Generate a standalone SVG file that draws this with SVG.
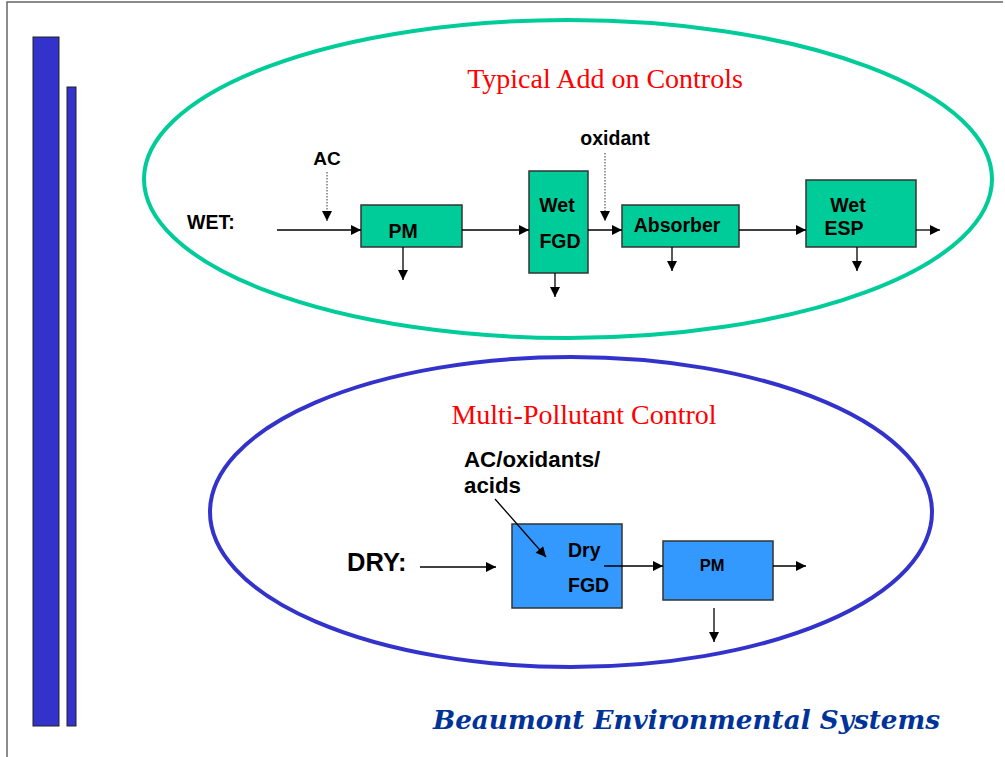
<svg xmlns="http://www.w3.org/2000/svg" width="1005" height="757" viewBox="0 0 1005 757">
  <style>
    .lbl { font-family: "Liberation Sans", Arial, sans-serif; font-weight: bold; fill: #000; }
    .title { font-family: "Liberation Serif", "Times New Roman", serif; font-size: 28px; fill: #ff0000; }
    .box-wet { fill: #00cc99; stroke: #333; stroke-width: 1.5; }
    .box-dry { fill: #3399ff; stroke: #333; stroke-width: 1.5; }
    .flow { stroke: #000; stroke-width: 1.3; fill: none; marker-end: url(#arrow); }
    .feed { stroke: #666; stroke-width: 1.3; fill: none; stroke-dasharray: 1.5 1.5; marker-end: url(#arrow); }
    .bar { fill: #3333cc; stroke: #222; stroke-width: 1; }
  </style>
  <defs>
    <marker id="arrow" viewBox="0 0 10 10" refX="10" refY="5" markerWidth="11" markerHeight="10" markerUnits="userSpaceOnUse" orient="auto">
      <path d="M0,0 L10,5 L0,10 z" fill="#000"/>
    </marker>
  </defs>

  <rect width="1005" height="757" fill="#fff"/>

  <!-- page frame -->
  <path d="M7,757 V2 H1003" fill="none" stroke="#666" stroke-width="1.5"/>

  <!-- side bars -->
  <g id="side-bars">
    <rect class="bar" x="33" y="37" width="26" height="689"/>
    <rect class="bar" x="67" y="87" width="9" height="639"/>
  </g>

  <!-- grouping ellipses -->
  <ellipse id="wet-group" cx="568" cy="179" rx="424" ry="159" fill="none" stroke="#00cc99" stroke-width="4"/>
  <ellipse id="dry-group" cx="571" cy="512" rx="361" ry="155" fill="none" stroke="#3333cc" stroke-width="4"/>

  <text class="title" x="605" y="88" text-anchor="middle">Typical Add on Controls</text>
  <text class="title" x="584" y="424" text-anchor="middle">Multi-Pollutant Control</text>

  <!-- wet train labels -->
  <text class="lbl" x="187" y="229" font-size="19.5">WET:</text>
  <text class="lbl" x="327" y="165" font-size="19" text-anchor="middle">AC</text>
  <text class="lbl" x="615" y="145" font-size="19.5" text-anchor="middle">oxidant</text>

  <g id="wet-pm">
    <rect class="box-wet" x="361" y="205" width="101" height="42"/>
    <text class="lbl" x="403" y="238" font-size="19.5" text-anchor="middle">PM</text>
  </g>
  <g id="wet-fgd">
    <rect class="box-wet" x="529" y="171" width="59" height="102"/>
    <text class="lbl" x="557" y="212" font-size="19.5" text-anchor="middle">Wet</text>
    <text class="lbl" x="560" y="248" font-size="19.5" text-anchor="middle">FGD</text>
  </g>
  <g id="absorber">
    <rect class="box-wet" x="622" y="205" width="117" height="42"/>
    <text class="lbl" x="677" y="232" font-size="19.5" text-anchor="middle">Absorber</text>
  </g>
  <g id="wet-esp">
    <rect class="box-wet" x="806" y="180" width="110" height="67"/>
    <text class="lbl" x="848" y="212" font-size="19.5" text-anchor="middle">Wet</text>
    <text class="lbl" x="844" y="235" font-size="19.5" text-anchor="middle">ESP</text>
  </g>

  <!-- dry train labels -->
  <text class="lbl" x="347" y="571" font-size="25.5">DRY:</text>
  <text class="lbl" x="464" y="467" font-size="22.3">AC/oxidants/</text>
  <text class="lbl" x="464" y="493" font-size="22.3">acids</text>

  <g id="dry-fgd">
    <rect class="box-dry" x="512" y="524" width="110" height="84"/>
    <text class="lbl" x="568" y="557" font-size="19.5">Dry</text>
    <text class="lbl" x="568" y="592" font-size="19.5">FGD</text>
  </g>
  <g id="dry-pm">
    <rect class="box-dry" x="663" y="541" width="110" height="59"/>
    <text class="lbl" x="712" y="571" font-size="16.5" text-anchor="middle">PM</text>
  </g>

  <!-- connectors -->
  <g id="connectors">
    <line class="flow" x1="277" y1="230" x2="361" y2="230"/>
    <line class="feed" x1="327" y1="172" x2="327" y2="221"/>
    <line class="flow" x1="403" y1="247" x2="403" y2="280"/>
    <line class="flow" x1="462" y1="230" x2="529" y2="230"/>
    <line class="flow" x1="555" y1="273" x2="555" y2="297"/>
    <line class="flow" x1="588" y1="230" x2="622" y2="230"/>
    <line class="feed" x1="605" y1="153" x2="605" y2="221"/>
    <line class="flow" x1="672" y1="247" x2="672" y2="271"/>
    <line class="flow" x1="739" y1="230" x2="806" y2="230"/>
    <line class="flow" x1="857" y1="247" x2="857" y2="271"/>
    <line class="flow" x1="916" y1="230" x2="940" y2="230"/>

    <line class="flow" x1="420" y1="567" x2="496" y2="567"/>
    <line class="flow" x1="495" y1="499" x2="546" y2="557"/>
    <line class="flow" x1="604" y1="566" x2="663" y2="566"/>
    <line class="flow" x1="773" y1="566" x2="806" y2="566"/>
    <line class="flow" x1="714" y1="608" x2="714" y2="642"/>
  </g>

  <!-- footer -->
  <text x="433" y="729" font-family="'DejaVu Serif', 'Liberation Serif', serif" font-weight="bold" font-style="italic" font-size="26" fill="#003399" textLength="507" lengthAdjust="spacingAndGlyphs">Beaumont Environmental Systems</text>
</svg>
